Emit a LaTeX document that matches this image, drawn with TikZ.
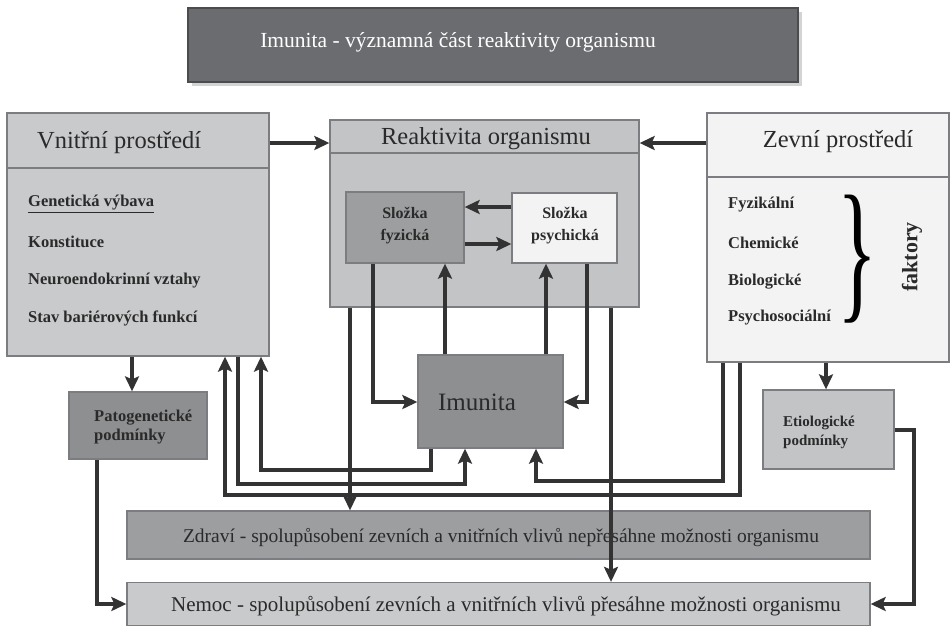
\documentclass[tikz,border=0pt]{standalone}
\usepackage{fontspec}
\setmainfont{Liberation Serif}
\usetikzlibrary{arrows.meta,shadows}
\newcommand{\fsz}[2]{\fontsize{#1}{#2}\selectfont}
\definecolor{titlefill}{HTML}{6B6C70}
\definecolor{edgegray}{HTML}{7C7D80}
\definecolor{lightfill}{HTML}{C9CACC}
\definecolor{midfill}{HTML}{9D9EA0}
\definecolor{darkfill}{HTML}{8E8F91}
\definecolor{palefill}{HTML}{F3F3F3}
\definecolor{etifill}{HTML}{C3C4C6}
\definecolor{arrowdark}{HTML}{333333}
\definecolor{textdark}{HTML}{2A2A2A}
\begin{document}
\begin{tikzpicture}[x=1pt,y=-1pt,
  box/.style={draw=edgegray, line width=1.3pt, inner sep=0pt},
  arr/.style={draw=arrowdark, line width=3.5pt, -{Stealth[length=15pt,width=14pt,inset=3pt]}},
  hdr/.style={font=\fsz{24.5pt}{28pt}, text=textdark, inner sep=0pt},
  item/.style={font=\bfseries\fsz{16.5pt}{19pt}, text=textdark, inner sep=0pt, anchor=west},
  inner/.style={font=\bfseries\fsz{16pt}{22pt}, text=textdark, inner sep=0pt, align=center},
  cond/.style={font=\bfseries\fsz{15pt}{19pt}, text=textdark, inner sep=0pt, align=left, anchor=west},
  bottomtxt/.style={text=textdark, inner sep=0pt}
]
\useasboundingbox (0,0) rectangle (951,627);
% boxes
\node[box, fill=titlefill, draw=titlefill!70!black, minimum width=610pt, minimum height=74pt,
  drop shadow={shadow xshift=4pt, shadow yshift=-4pt, opacity=0.35}] (title) at (493,45) {};
\node[font=\fsz{21.5pt}{24pt}, text=white, inner sep=0pt] (titletxt) at (458,42) {Imunita - významná část reaktivity organismu};

\node[box, fill=lightfill, minimum width=262pt, minimum height=243pt] (vp) at (138,234.5) {};
\node[box, fill=lightfill!97!black, minimum width=309pt, minimum height=187pt] (ro) at (484.5,213.5) {};
\node[box, fill=palefill, minimum width=242pt, minimum height=249pt] (zp) at (828,237.5) {};
\node[box, fill=midfill, minimum width=118pt, minimum height=71pt] (fyz) at (405,227.5) {};
\node[box, fill=palefill, minimum width=105pt, minimum height=70pt] (psy) at (564.5,228) {};
\node[box, fill=darkfill, minimum width=145pt, minimum height=93pt] (imu) at (490.5,401.5) {};
\node[box, fill=darkfill, minimum width=138pt, minimum height=67pt] (pat) at (138,425.5) {};
\node[box, fill=etifill, minimum width=131pt, minimum height=79pt] (eti) at (828.5,429.5) {};
\node[box, fill=midfill, minimum width=743pt, minimum height=48pt] (zdr) at (498.5,535) {};
\node[box, fill=lightfill, minimum width=743pt, minimum height=43pt] (nem) at (498.5,604) {};

% header separators
\draw[edgegray, line width=1.3pt] (vp.west |- 0,168) -- (vp.east |- 0,168);
\draw[edgegray, line width=1.3pt] (ro.west |- 0,153) -- (ro.east |- 0,153);
\draw[edgegray, line width=1.3pt] (zp.west |- 0,177) -- (zp.east |- 0,177);

% texts
\node[hdr, anchor=west] (vptxt) at (37,143) {Vnitřní prostředí};
\node[hdr] (rotxt) at (486,139) {Reaktivita organismu};
\node[hdr] (zptxt) at (838,142) {Zevní prostředí};

\node[item] (i1) at (28,204) {\underline{Genetická výbava}};
\node[item] (i2) at (28,242) {Konstituce};
\node[item] (i3) at (28,281) {Neuroendokrinní vztahy};
\node[item] (i4) at (28,318) {Stav bariérových funkcí};

\node[item] (f1) at (728,205) {Fyzikální};
\node[item] (f2) at (728,243) {Chemické};
\node[item] (f3) at (728,282) {Biologické};
\node[item] (f4) at (728,318) {Psychosociální};
\node[inner sep=0pt, text=black] (brace) at (858,259) {\resizebox*{40pt}{128pt}{\}}};
\node[font=\bfseries\fsz{22pt}{24pt}, text=textdark, rotate=90, inner sep=0pt] (fak) at (912,257) {faktory};

\node[inner] (fyztxt) at (405,226) {Složka\\fyzická};
\node[inner] (psytxt) at (565,226) {Složka\\psychická};
\node[font=\fsz{25pt}{28pt}, text=textdark, inner sep=0pt] (imutxt) at (477,402) {Imunita};
\node[cond, font=\bfseries\fsz{16.5pt}{19pt}] (pattxt) at (94,427) {Patogenetické\\podmínky};
\node[cond] (etitxt) at (783,432) {Etiologické\\podmínky};
\node[bottomtxt, font=\fsz{19.5pt}{22pt}] (zdrtxt) at (501,538) {Zdraví - spolupůsobení zevních a vnitřních vlivů nepřesáhne možnosti organismu};
\node[bottomtxt, font=\fsz{21pt}{24pt}] (nemtxt) at (506,606) {Nemoc - spolupůsobení zevních a vnitřních vlivů přesáhne možnosti organismu};

% connectors
\draw[arr] (vp.east |- 0,143) -- (ro.west |- 0,143);
\draw[arr] (zp.west |- 0,143) -- (ro.east |- 0,143);
\draw[arr] (psy.west |- 0,207) -- (fyz.east |- 0,207);
\draw[arr] (fyz.east |- 0,244) -- (psy.west |- 0,244);
\draw[arr] (vp.south -| 132,0) -- (pat.north -| 132,0);
\draw[arr] (pat.south -| 97,0) |- (nem.west);
\draw[arr] (zp.south -| 826,0) -- (eti.north -| 826,0);
\draw[arr] (eti.east |- 0,430) -- (914,430) |- (nem.east);
\draw[arr] (zp.south -| 740,0) |- (225,495) -- (vp.south -| 225,0);
\draw[arr] (vp.south -| 238,0) |- (465,484) -- (imu.south -| 465,0);
\draw[arr] (imu.south -| 431,0) |- (261,470) -- (vp.south -| 261,0);
\draw[arr] (ro.south -| 350,0) -- (zdr.north -| 350,0);
\draw[arr] (fyz.south -| 373,0) |- (imu.west |- 0,402);
\draw[arr] (imu.north -| 445,0) -- (fyz.south -| 445,0);
\draw[arr] (imu.north -| 546,0) -- (psy.south -| 546,0);
\draw[arr] (psy.south -| 587,0) |- (imu.east |- 0,402);
\draw[arr] (ro.south -| 611,0) -- (nem.north -| 611,0);
\draw[arr] (zp.south -| 723,0) |- (536,481) -- (imu.south -| 536,0);
\end{tikzpicture}
\end{document}
